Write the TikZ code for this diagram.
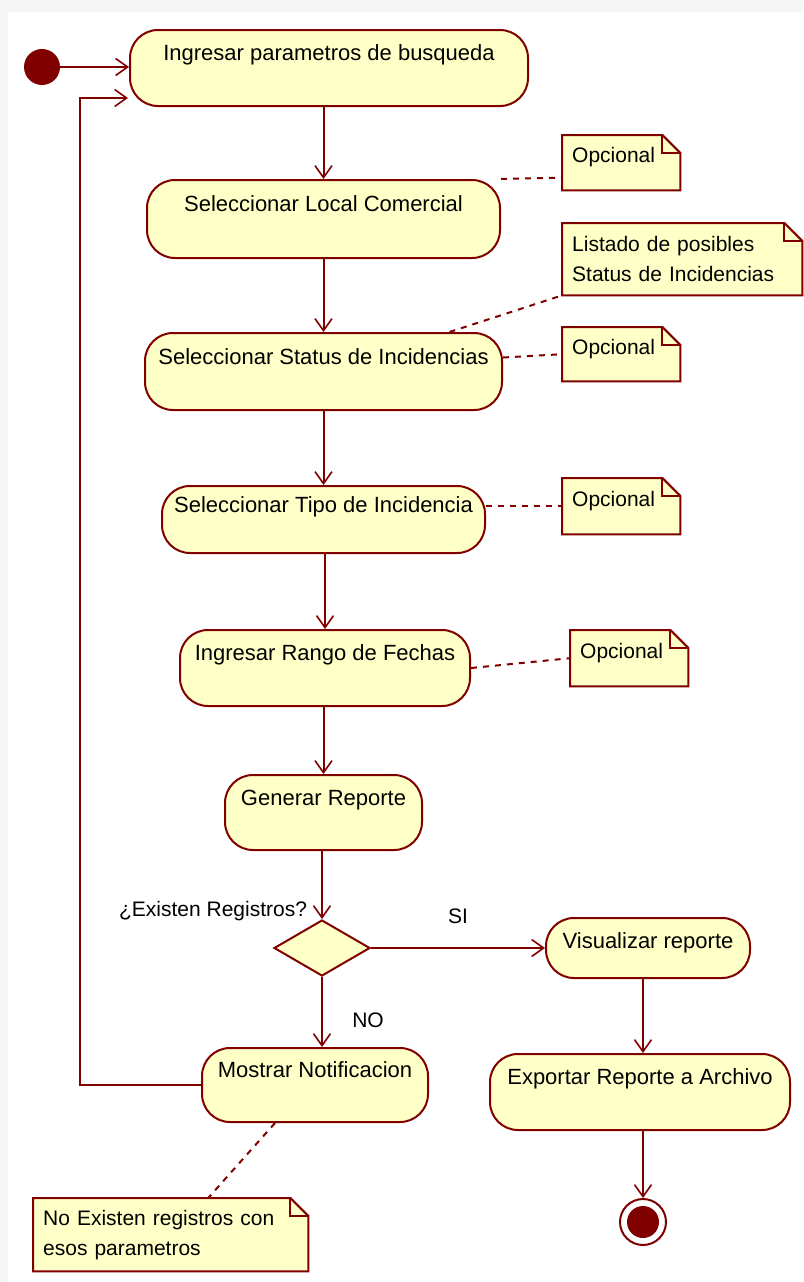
\documentclass[tikz,border=0pt]{standalone}
\usepackage{fontspec}
\setmainfont{Liberation Sans}
\usetikzlibrary{shapes.geometric,arrows.meta,backgrounds}
\definecolor{umlred}{RGB}{128,0,0}
\definecolor{umlyellow}{RGB}{255,255,200}
\tikzset{
    act/.style={draw=umlred,fill=umlyellow,line width=2pt,rounded corners=28pt,inner sep=0pt,text height=16pt,text depth=31pt,font=\fontsize{22}{26}\selectfont},
    flow/.style={umlred,line width=2pt,-{Straight Barb[length=12pt,width=17pt,line width=1.6pt]}},
    link/.style={umlred,line width=2pt,dash pattern=on 6pt off 6pt},
    note/.style={anchor=north west,inner xsep=10pt,inner ysep=0pt,align=left,font=\fontsize{21}{30}\selectfont},
    optnote/.style={note,text width=98pt,minimum width=118pt,text height=16pt,text depth=16pt},
    guard/.style={text=black,inner sep=0pt,font=\fontsize{21}{25}\selectfont},
    notebg/.style={draw=umlred,fill=umlyellow,line width=2pt}
}
\newcommand{\notefold}[1]{%
    \begin{scope}[on background layer]
    \filldraw[notebg] (#1.north west) -- ([xshift=-18pt]#1.north east) -- ([yshift=-18pt]#1.north east) -- (#1.south east) -- (#1.south west) -- cycle;
    \draw[notebg,fill=none] ([xshift=-18pt]#1.north east) |- ([yshift=-18pt]#1.north east);
    \end{scope}}

\begin{document}
\begin{tikzpicture}[x=1pt,y=-1pt]
    \useasboundingbox (0,0) rectangle (803,1282);
    \begin{scope}[on background layer]
        \fill[gray!7] (0,0) rectangle (803,12);
        \fill[gray!7] (0,0) rectangle (8,1282);
    \end{scope}
    % actions
    \node[circle,fill=umlred,inner sep=0pt,minimum size=36pt] (start) at (42,67) {};
    \node[act,minimum width=398pt,minimum height=76pt] (busq) at (329,68) {Ingresar parametros de busqueda};
    \node[act,minimum width=353pt,minimum height=78pt] (local) at (323.5,219) {Seleccionar Local Comercial};
    \node[act,minimum width=357pt,minimum height=77pt] (status) at (323.5,371.5) {Seleccionar Status de Incidencias};
    \node[act,minimum width=323pt,minimum height=67pt] (tipo) at (323.5,519.5) {Seleccionar Tipo de Incidencia};
    \node[act,minimum width=290pt,minimum height=76pt] (fechas) at (325,668) {Ingresar Rango de Fechas};
    \node[act,minimum width=197pt,minimum height=75pt] (gen) at (323.5,812.5) {Generar Reporte};
    \node[diamond,draw=umlred,fill=umlyellow,line width=2pt,inner sep=0pt,minimum width=96pt,minimum height=56pt] (dec) at (322,948) {};
    \node[act,minimum width=204pt,minimum height=60pt,text depth=16pt] (vis) at (648,948) {Visualizar reporte};
    \node[act,minimum width=226pt,minimum height=74pt] (notif) at (315,1085) {Mostrar Notificacion};
    \node[act,minimum width=300pt,minimum height=76pt] (export) at (640,1092) {Exportar Reporte a Archivo};
    \node[circle,draw=umlred,fill=white,line width=2pt,inner sep=0pt,minimum size=46pt] (end) at (643,1222) {};
    \fill[umlred] (end) circle (16pt);
    \coordinate (loop) at (80,98);
    \coordinate (back) at (128,98);
    % notes
    \node[optnote,minimum height=55pt] (opt1) at (562,135) {Opcional};
    \node[note,text width=220pt,minimum width=240pt,minimum height=72pt] (lista) at (562,223) {Listado de posibles\\Status de Incidencias};
    \node[optnote,minimum height=54pt] (opt2) at (562,327) {Opcional};
    \node[optnote,minimum height=56pt] (opt3) at (562,478) {Opcional};
    \node[optnote,minimum height=56pt] (opt4) at (570,630) {Opcional};
    \node[note,text width=255pt,minimum width=275pt,minimum height=73pt] (noreg) at (33,1198) {No Existen registros con\\esos parametros};
    \notefold{opt1}
    \notefold{lista}
    \notefold{opt2}
    \notefold{opt3}
    \notefold{opt4}
    \notefold{noreg}
    % flows
    \draw[flow] (start.east) -- (start.east -| busq.west);
    \draw[flow] (busq.south -| local.north) -- (local.north);
    \draw[flow] (local.south) -- (status.north);
    \draw[flow] (status.south) -- (tipo.north);
    \draw[flow] (tipo.south -| fechas.north) -- (fechas.north);
    \draw[flow] (fechas.south -| gen.north) -- (gen.north);
    \draw[flow] (gen.south -| dec.north) -- node[guard,pos=0.88,left=14pt] {¿Existen Registros?} (dec.north);
    \draw[flow] (dec.east) -- node[guard,midway,yshift=32pt] {SI} (vis.west);
    \draw[flow] (dec.south) -- node[guard,midway,xshift=46pt,yshift=-8pt] {NO} (dec.south |- notif.north);
    \draw[flow] (notif.west) -| (loop) -- (back);
    \draw[flow] (vis.south -| end) -- (export.north -| end);
    \draw[flow] (export.south -| end) -- (end.north);
    % links to notes
    \draw[link] (local.north east) -- ([yshift=-15pt]opt1.west);
    \draw[link] ([xshift=126pt]status.north) -- (lista.south west);
    \draw[link] ([yshift=14pt]status.east) -- (opt2.west);
    \draw[link] (tipo.east |- opt3.west) -- (opt3.west);
    \draw[link] (fechas.east) -- (opt4.west);
    \draw[link] ([xshift=-40pt]notif.south) -- ([xshift=37.5pt]noreg.north);
\end{tikzpicture}
\end{document}
